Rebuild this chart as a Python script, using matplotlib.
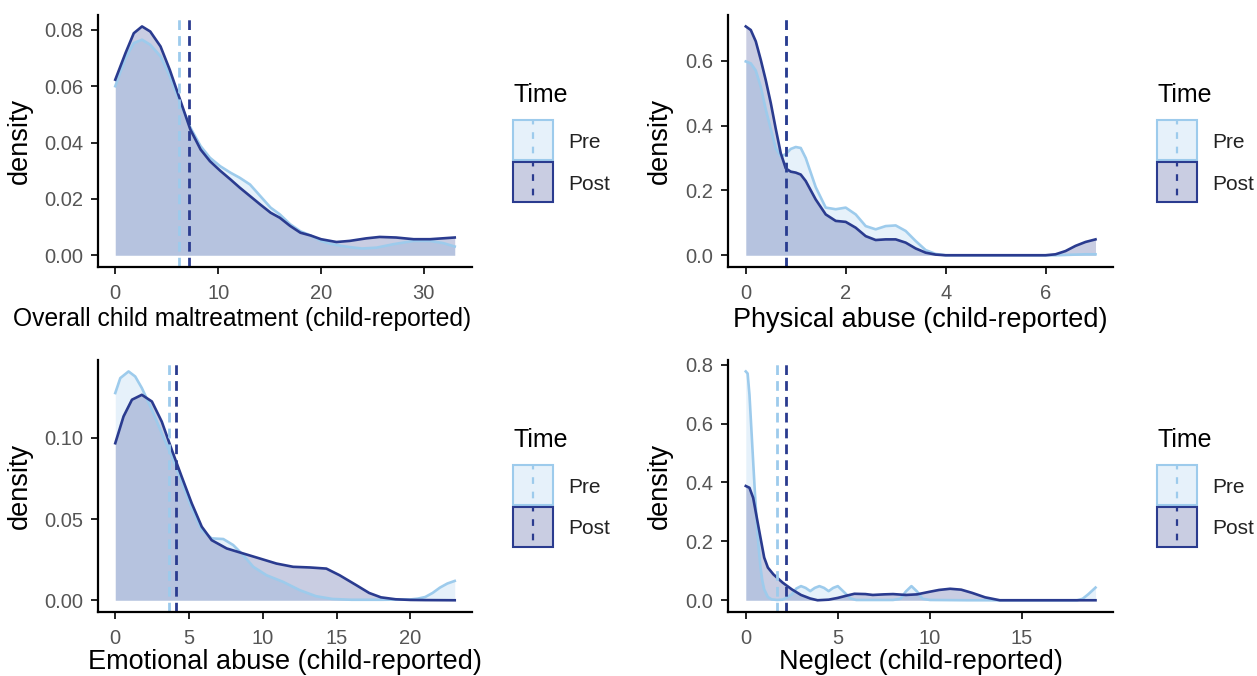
import matplotlib
matplotlib.use("Agg")
import matplotlib.pyplot as plt
from matplotlib.patches import Rectangle
from matplotlib.colors import to_rgba

plt.rcParams['font.family'] = ['Liberation Sans', 'DejaVu Sans']

W, H = 1257, 676
PRE = '#9dcbec'
POST = '#2a3b8f'
ALPHA = 0.25
GREY = '#555555'
times = ['Pre', 'Post']

# ---- Overall child maltreatment ----
overall_pre_x = [0, 1, 1.8, 2.6, 3.4, 4.4, 5.3, 6.3, 7.3, 8.3, 9.2, 10.2, 11.2, 12.1, 13.1, 14.1,
                 15.1, 16, 17, 18, 19, 20, 21, 22, 23, 24, 25.4, 27, 29, 30.6, 31.9, 33]
overall_pre_y = [0.0600, 0.0700, 0.0753, 0.0765, 0.0747, 0.0706, 0.0635, 0.0541, 0.0453, 0.0387,
                 0.0346, 0.0316, 0.0293, 0.0275, 0.0251, 0.0210, 0.0169, 0.0145, 0.0110, 0.0085,
                 0.0070, 0.0051, 0.0040, 0.0033, 0.0028, 0.0024, 0.0027, 0.0039, 0.0051, 0.0051,
                 0.0043, 0.0031]
overall_post_x = [0, 1, 1.8, 2.6, 3.4, 4.4, 5.3, 6.3, 7.3, 8.3, 9.2, 10.2, 11.2, 12.1, 13.1, 14.1,
                  15.1, 16, 17, 18, 19, 20, 21.5, 22.8, 24.4, 25.7, 27.3, 29, 30.6, 33]
overall_post_y = [0.0623, 0.0718, 0.0788, 0.0812, 0.0794, 0.0741, 0.0658, 0.0552, 0.0446, 0.0375,
                  0.0334, 0.0300, 0.0269, 0.0240, 0.0210, 0.0180, 0.0151, 0.0133, 0.0104, 0.0080,
                  0.0070, 0.0057, 0.0047, 0.0051, 0.0060, 0.0065, 0.0063, 0.0057, 0.0057, 0.0063]
overall_means = [6.15, 7.12]

# ---- Physical abuse ----
phys_x = [0, 0.1, 0.2, 0.3, 0.4, 0.5, 0.6, 0.7, 0.8, 0.9, 1.0, 1.1, 1.2, 1.4, 1.6, 1.8, 2.0, 2.2,
          2.4, 2.6, 2.8, 3.0, 3.2, 3.4, 3.6, 3.8, 4.0, 5.0, 6.0, 6.2, 6.4, 6.6, 6.8, 7.0]
phys_pre = [0.598, 0.592, 0.570, 0.520, 0.450, 0.390, 0.330, 0.305, 0.312, 0.328, 0.334, 0.331,
            0.300, 0.210, 0.147, 0.142, 0.147, 0.126, 0.090, 0.080, 0.090, 0.092, 0.075, 0.044,
            0.016, 0.004, 0.0, 0.0, 0.0, 0.0, 0.001, 0.002, 0.003, 0.003]
phys_post = [0.706, 0.695, 0.660, 0.603, 0.540, 0.470, 0.390, 0.315, 0.268, 0.258, 0.255, 0.249,
             0.229, 0.172, 0.126, 0.106, 0.103, 0.085, 0.059, 0.047, 0.049, 0.049, 0.039, 0.021,
             0.008, 0.002, 0.0, 0.0, 0.0, 0.003, 0.013, 0.029, 0.041, 0.049]
phys_means = [0.8, 0.8]

# ---- Emotional abuse ----
emo_pre_x = [0, 0.34, 0.9, 1.35, 1.8, 2.48, 3.15, 3.83, 4.5, 5.18, 5.86, 6.53, 7.32, 7.99, 8.67,
             9.35, 10.25, 11.38, 12.5, 13.6, 14.7, 16, 18, 20, 20.5, 21, 21.5, 22, 22.5, 23]
emo_pre = [0.1276, 0.1368, 0.1409, 0.1378, 0.1307, 0.1173, 0.1029, 0.0885, 0.0730, 0.0566,
           0.0432, 0.0381, 0.0377, 0.0340, 0.0278, 0.0206, 0.0154, 0.0113, 0.0062, 0.0025,
           0.0008, 0.0003, 0.0003, 0.0005, 0.0010, 0.0020, 0.0045, 0.0078, 0.0103, 0.0119]
emo_post_x = [0, 0.56, 1.13, 1.8, 2.48, 3.15, 3.83, 4.5, 5.18, 5.86, 6.53, 7.55, 8.67, 9.8, 10.92,
              12.05, 13.18, 14.3, 15.2, 16.33, 17.2, 18, 19, 20, 21, 23]
emo_post = [0.0967, 0.1132, 0.1235, 0.1265, 0.1224, 0.1100, 0.0926, 0.0761, 0.0597, 0.0453,
            0.0370, 0.0319, 0.0288, 0.0257, 0.0226, 0.0206, 0.0202, 0.0195, 0.0154, 0.0093,
            0.0045, 0.0018, 0.0006, 0.0002, 0.0001, 0.0]
emo_means = [3.67, 4.12]

# ---- Neglect ----
neg_pre_x = [0, 0.1, 0.2, 0.3, 0.4, 0.5, 0.6, 0.7, 0.8, 0.9, 1.0, 1.2, 1.4, 1.7, 2.0, 2.2, 2.5,
             2.75, 3.0, 3.25, 3.5, 3.75, 4.0, 4.25, 4.5, 4.75, 5.0, 5.3, 5.7, 6.0, 7.0, 8.0, 8.4,
             8.7, 9.0, 9.3, 9.6, 10.0, 12, 14, 16, 18, 18.3, 18.6, 19]
neg_pre = [0.777, 0.770, 0.698, 0.585, 0.472, 0.360, 0.258, 0.178, 0.111, 0.066, 0.037, 0.011,
           0.003, 0.001, 0.002, 0.008, 0.020, 0.040, 0.048, 0.042, 0.031, 0.042, 0.048, 0.042,
           0.031, 0.042, 0.048, 0.030, 0.006, 0.001, 0.001, 0.001, 0.005, 0.030, 0.048, 0.030,
           0.005, 0.001, 0.0, 0.0, 0.0, 0.0, 0.005, 0.020, 0.043]
neg_post_x = [0, 0.2, 0.4, 0.6, 0.8, 1.0, 1.2, 1.5, 2.0, 2.5, 3.0, 3.5, 3.9, 4.5, 5.0, 5.5, 5.9,
              6.5, 6.9, 7.5, 8.0, 8.7, 9.3, 10.0, 10.5, 11.1, 11.7, 12.3, 13.0, 13.8, 15, 17, 19]
neg_post = [0.388, 0.382, 0.348, 0.280, 0.212, 0.145, 0.111, 0.088, 0.060, 0.037, 0.018, 0.006,
            0.0, 0.002, 0.008, 0.016, 0.022, 0.021, 0.018, 0.020, 0.021, 0.018, 0.020, 0.029,
            0.035, 0.039, 0.036, 0.025, 0.010, 0.0, 0.0, 0.0, 0.0]
neg_means = [1.71, 2.2]

panels = [
    dict(rect=(98.3, 15, 471.7, 266.7), pre=(overall_pre_x, overall_pre_y),
         post=(overall_post_x, overall_post_y), means=overall_means,
         xticks=[0, 10, 20, 30], yticks=[0, 0.02, 0.04, 0.06, 0.08], yfmt='{:.2f}',
         xlabel='Overall child maltreatment (child-reported)', xlab_size=17.7, xlab_x=0.385,
         xlab_y=-0.16, ylab_x=-0.175, legend=(513, 0)),
    dict(rect=(728.3, 15, 1113, 266.7), pre=(phys_x, phys_pre), post=(phys_x, phys_post),
         means=phys_means, xticks=[0, 2, 4, 6], yticks=[0, 0.2, 0.4, 0.6], yfmt='{:.1f}',
         xlabel='Physical abuse (child-reported)', xlab_size=19.5, xlab_x=0.5,
         xlab_y=-0.16, ylab_x=-0.144, legend=(1157, 0)),
    dict(rect=(98.3, 360, 471.7, 611.7), pre=(emo_pre_x, emo_pre), post=(emo_post_x, emo_post),
         means=emo_means, xticks=[0, 5, 10, 15, 20], yticks=[0, 0.05, 0.10], yfmt='{:.2f}',
         xlabel='Emotional abuse (child-reported)', xlab_size=19.5, xlab_x=0.5,
         xlab_y=-0.148, ylab_x=-0.175, legend=(513, 345)),
    dict(rect=(728.3, 360, 1113, 611.7), pre=(neg_pre_x, neg_pre), post=(neg_post_x, neg_post),
         means=neg_means, xticks=[0, 5, 10, 15], yticks=[0, 0.2, 0.4, 0.6, 0.8], yfmt='{:.1f}',
         xlabel='Neglect (child-reported)', xlab_size=19.5, xlab_x=0.5,
         xlab_y=-0.148, ylab_x=-0.144, legend=(1157, 345)),
]

fig = plt.figure(figsize=(W / 100, H / 100), dpi=100)

for p in panels:
    l, t, r, b = p['rect']
    ax = fig.add_axes([l / W, 1 - b / H, (r - l) / W, (b - t) / H])
    cols = [PRE, POST]
    allx = list(p['pre'][0]) + list(p['post'][0])
    ymax = max(max(p['pre'][1]), max(p['post'][1]))
    for (xs, ys), c in zip([p['pre'], p['post']], cols):
        ax.fill_between(xs, ys, 0, color=c, alpha=ALPHA, lw=0)
        ax.plot(xs, ys, color=c, lw=1.9, solid_joinstyle='round')
    for m, c in zip(p['means'], cols):
        ax.axvline(m, color=c, lw=2.0, ls=(0, (3.5, 2.2)))
    x0, x1 = min(allx), max(allx)
    ax.set_xlim(x0 - 0.05 * (x1 - x0), x1 + 0.05 * (x1 - x0))
    ax.set_ylim(-0.05 * ymax, 1.05 * ymax)
    ax.set_xticks(p['xticks'])
    ax.set_xticklabels([str(v) for v in p['xticks']])
    ax.set_yticks(p['yticks'])
    ax.set_yticklabels([p['yfmt'].format(v) for v in p['yticks']])
    for s in ['top', 'right']:
        ax.spines[s].set_visible(False)
    for s in ['left', 'bottom']:
        ax.spines[s].set_linewidth(1.6)
        ax.spines[s].set_color('black')
    ax.tick_params(axis='both', length=5, width=1.2, color='black', labelsize=14.5,
                   labelcolor=GREY)
    ax.tick_params(axis='x', pad=7.5)
    ax.tick_params(axis='y', pad=6)
    ax.set_xlabel(p['xlabel'], fontsize=p['xlab_size'], color='black')
    ax.xaxis.set_label_coords(p['xlab_x'], p['xlab_y'])
    ax.set_ylabel('density', fontsize=19.5, color='black')
    ax.yaxis.set_label_coords(p['ylab_x'], 0.5)

# legends drawn in pixel space
ov = fig.add_axes([0, 0, 1, 1], zorder=10)
ov.set_xlim(0, W)
ov.set_ylim(H, 0)
ov.axis('off')
for p in panels:
    lx, dy = p['legend']
    ov.text(lx + 1, 102 + dy, 'Time', fontsize=18, ha='left', va='baseline')
    for i, (lab, c) in enumerate(zip(times, [PRE, POST])):
        top = 120 + dy + i * 41.5
        ov.add_patch(Rectangle((lx, top), 40, 40, facecolor=to_rgba(c, ALPHA),
                               edgecolor=c, lw=1.5))
        ov.plot([lx + 20, lx + 20], [top, top + 40], color=c, lw=1.6, ls=(1, (3, 3.5)))
        ov.text(lx + 55, top + 28, lab, fontsize=15, ha='left', va='baseline', color='#222222')

fig.savefig('out.png', dpi=100)
